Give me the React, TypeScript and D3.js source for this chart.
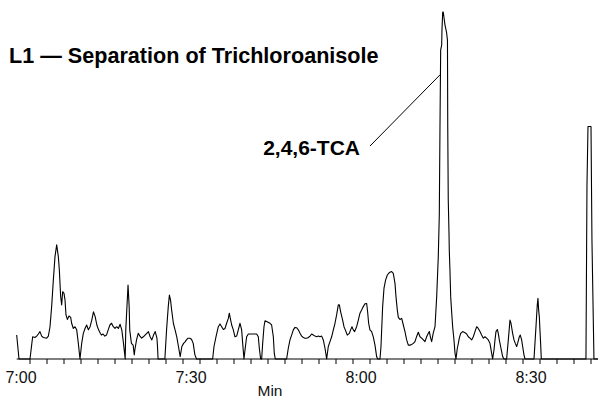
import React from "react";
import * as d3 from "d3";

const WIDTH = 598;
const HEIGHT = 399;

// Retention time is given in seconds after 7:00; signal is relative response (%).
const axisLabels = ["7:00", "7:30", "8:00", "8:30"];
const labelSeconds = [0, 30, 60, 90];
const minorTickStep = 3;

const earlyTrace: [number, number][] = [
  [-2.35, 6.9], [-1.94, 0], [0, 0], [0.29, 4.0], [0.47, 6.4], [0.88, 6.2], [1.18, 6.6], [1.47, 7.2],
  [1.76, 7.9], [2.06, 6.6], [2.35, 6.2], [2.94, 6.0], [3.24, 6.6], [3.53, 9.3], [3.82, 15.1], [4.12, 22.8],
  [4.41, 29.5], [4.71, 32.9], [5.0, 29.5], [5.18, 25.6], [5.41, 18.0], [5.59, 15.6], [5.76, 19.4], [6.0, 18.9],
  [6.18, 17.0], [6.35, 12.7], [6.59, 11.4], [6.88, 12.4], [7.18, 12.0], [7.35, 10.3], [7.65, 8.8], [7.94, 9.3],
  [8.24, 8.4], [8.53, 4.5], [8.82, 0], [9.12, 4.5], [9.41, 7.4], [9.71, 8.8], [10.0, 9.8], [10.3, 8.4],
  [10.6, 9.3], [10.9, 11.2], [11.2, 13.6], [11.5, 12.2], [11.8, 9.8], [12.1, 8.4], [12.4, 7.4], [12.6, 6.9],
  [12.9, 7.2], [13.2, 6.6], [13.5, 6.9], [13.8, 8.4], [14.1, 9.8], [14.4, 10.3], [14.7, 9.3], [15.0, 8.8],
  [15.3, 9.3], [15.6, 8.8], [15.9, 10.0], [16.2, 8.4], [16.5, 4.5], [16.8, 0], [16.9, 8.4], [17.2, 18.0],
  [17.3, 21.3], [17.5, 15.1], [17.6, 8.4], [17.9, 4.5], [18.2, 4.0], [18.4, 1.2], [18.5, 2.6], [18.8, 5.5],
  [19.1, 7.4], [19.4, 6.6], [19.7, 6.0], [20.0, 6.4], [20.3, 6.9], [20.6, 7.4], [20.9, 7.9], [21.2, 6.4],
  [21.5, 5.5], [21.8, 6.9], [22.1, 7.9], [22.4, 6.0], [22.5, 3.6], [22.6, 0], [23.8, 0], [24.1, 8.4],
  [24.4, 15.1], [24.6, 18.4], [24.8, 17.0], [25.0, 14.1], [25.3, 10.3], [25.6, 8.4], [25.9, 6.4], [26.2, 3.6],
  [26.5, 0.7], [26.8, 3.6], [27.1, 4.5], [27.4, 5.0], [27.6, 5.5], [27.9, 6.0], [28.2, 6.0], [28.5, 5.7],
  [28.8, 4.5], [29.1, 1.2], [29.4, 0],
];

const middleTrace: [number, number][] = [
  [32.23, 0], [32.47, 3.6], [32.82, 6.4], [33.23, 9.3], [33.53, 10.1], [33.82, 9.3], [34.12, 8.5], [34.41, 8.8],
  [34.7, 10.3], [35.0, 11.7], [35.17, 13.2], [35.35, 11.7], [35.59, 9.8], [35.88, 8.4], [36.17, 6.4], [36.47, 6.6],
  [36.76, 8.4], [37.06, 10.3], [37.35, 8.4], [37.53, 4.5], [37.76, 0], [37.94, 2.6], [38.23, 6.4], [38.53, 7.2],
  [39.12, 7.2], [39.7, 7.2], [40.0, 7.2], [40.29, 6.4], [40.47, 3.1], [40.7, 0], [40.88, 0], [41.06, 4.5],
  [41.29, 9.3], [41.47, 11.0], [41.76, 10.8], [42.35, 10.3], [42.64, 9.8], [42.94, 6.4], [43.11, 1.6], [43.29, 0],
  [45.29, 0], [45.58, 3.1], [45.88, 5.5], [46.17, 6.9], [46.47, 8.4], [46.76, 9.1], [47.06, 9.0], [47.35, 8.4],
  [47.65, 7.4], [47.94, 6.6], [48.23, 6.2], [48.53, 6.0], [48.82, 6.0], [49.12, 6.2], [49.41, 6.6], [49.7, 7.2],
  [50.0, 6.9], [50.29, 6.6], [50.59, 6.4], [50.88, 6.6], [51.17, 6.4], [51.47, 6.6], [51.76, 5.5], [52.06, 3.1],
  [52.35, 0], [52.64, 3.6], [52.94, 5.0], [53.23, 6.4], [53.53, 8.4], [53.82, 10.3], [54.11, 12.7], [54.41, 15.6],
  [54.59, 15.6], [54.82, 13.6], [55.17, 11.2], [55.41, 9.3], [55.64, 8.4], [55.99, 6.9], [56.35, 7.4], [56.58, 8.4],
  [56.82, 9.3], [57.05, 8.4], [57.29, 7.9], [57.64, 9.3], [57.94, 11.2], [58.23, 13.2], [58.52, 14.1], [58.82, 15.1],
  [59.11, 15.9], [59.41, 16.0], [59.58, 13.6], [59.76, 10.3], [59.99, 8.4], [60.29, 7.9], [60.58, 6.4], [60.88, 4.0],
  [61.17, 0.7], [61.35, 0], [61.76, 0], [61.94, 3.6], [62.23, 15.1], [62.47, 20.4], [62.76, 22.8], [63.06, 24.2],
  [63.41, 24.9], [63.82, 25.2], [64.11, 24.7], [64.41, 21.8], [64.59, 17.9], [64.82, 14.1], [65.0, 12.0], [65.29, 11.4],
  [65.59, 11.7], [65.88, 9.8], [66.17, 7.9], [66.47, 5.5], [66.76, 4.0], [67.06, 4.0], [67.35, 4.2], [67.64, 4.5],
  [67.94, 5.0], [68.23, 6.5], [68.53, 7.7], [68.82, 6.4], [69.12, 6.0], [69.41, 5.5], [69.7, 5.0], [70.0, 6.4],
  [70.29, 7.4], [70.47, 7.9], [70.7, 6.0], [70.88, 5.0],
];

// 2,4,6-trichloroanisole elution band
const tcaPeak: [number, number][] = [
  [71.17, 7.5], [71.47, 9.3], [71.77, 18.0], [72.05, 29.5], [72.23, 41.5], [72.35, 66.9], [72.47, 89.0],
  [72.65, 90.5], [72.7, 94.8], [72.83, 100], [72.93, 100], [73.23, 96.3], [73.5, 94.2], [73.67, 91.9],
  [73.72, 66.9], [73.81, 45.8], [73.94, 36.3], [73.99, 31.4], [74.11, 25.6], [74.24, 17.9], [74.42, 13.3],
  [74.59, 9.2], [74.82, 5.5], [75.0, 1.7], [75.17, 0],
];

const lateTrace: [number, number][] = [
  [75.41, 3.1], [75.59, 4.5], [75.76, 6.0], [76.0, 7.4], [76.35, 7.9], [76.76, 7.6], [77.06, 7.2], [77.35, 6.4],
  [77.64, 6.0], [77.94, 5.5], [78.23, 6.4], [78.53, 7.9], [78.82, 9.3], [79.11, 8.8], [79.41, 7.9], [79.7, 6.9],
  [80.0, 6.0], [80.29, 6.4], [80.58, 6.0], [80.88, 5.5], [81.17, 4.5], [81.47, 1.6], [81.64, 0], [81.88, 2.6],
  [82.06, 5.5], [82.23, 7.9], [82.47, 8.5], [82.64, 7.4], [82.82, 5.5], [83.05, 3.6], [83.41, 0.7], [83.64, 0],
  [84.11, 0], [84.41, 5.5], [84.7, 11.2], [84.88, 10.3], [85.17, 7.4], [85.41, 5.5], [85.64, 4.5], [85.88, 3.6],
  [86.05, 4.5], [86.35, 6.4], [86.52, 6.9], [86.76, 5.5], [86.94, 3.6], [87.17, 1.2], [87.35, 0], [88.94, 0],
  [89.11, 4.5], [89.29, 9.3], [89.52, 15.6], [89.64, 17.5], [89.76, 14.1], [89.88, 12.2], [89.99, 8.4], [90.11, 4.5],
  [90.23, 0], [98.11, 0], [98.29, 50], [98.47, 67], [99.0, 67], [99.17, 34], [99.52, 0], [100.3, 0],
];

// point on the rising flank of the TCA band where the callout ends
const tcaCallout: [number, number] = [72.42, 82];

const titleText = "L1 — Separation of Trichloroanisole";
const peakName = "2,4,6-TCA";
const axisName = "Min";

const FONT = "'Liberation Sans', Arial, Helvetica, sans-serif";

export default function App() {
  const trace = [...earlyTrace, ...middleTrace, ...tcaPeak, ...lateTrace];

  const x = d3.scaleLinear().domain([0, 90]).range([30, 540]);
  const y = d3.scaleLinear().domain([0, 100]).range([359, 12]);

  const line = d3
    .line<[number, number]>()
    .x((d) => x(d[0]))
    .y((d) => y(d[1]));

  const tStart = trace[0][0];
  const tEnd = trace[trace.length - 1][0];
  const ticks = d3.range(0, tEnd, minorTickStep);

  const labelX = 360;
  const labelY = 155;

  return (
    <svg
      width={WIDTH}
      height={HEIGHT}
      viewBox={`0 0 ${WIDTH} ${HEIGHT}`}
      style={{ position: "absolute", left: 0, top: 0, background: "#fff" }}
      fontFamily={FONT}
    >
      <rect width={WIDTH} height={HEIGHT} fill="#fff" />

      {/* time axis */}
      <line x1={x(tStart)} x2={WIDTH} y1={y(0)} y2={y(0)} stroke="#000" strokeWidth={1.2} />
      {ticks.map((t) => (
        <line key={t} x1={x(t)} x2={x(t)} y1={y(0)} y2={y(0) + 5} stroke="#000" strokeWidth={1} />
      ))}
      {axisLabels.map((lab, i) => (
        <text key={lab} x={x(labelSeconds[i])} dx={-9} y={383} fontSize={16} textAnchor="middle" fill="#111">
          {lab}
        </text>
      ))}
      <text x={270} y={396} fontSize={15.5} textAnchor="middle" fill="#111">
        {axisName}
      </text>

      {/* detector trace */}
      <path d={line(trace) || ""} fill="none" stroke="#000" strokeWidth={1.1} strokeLinejoin="round" />

      {/* title and peak annotation */}
      <text x={9} y={63} fontSize={21.6} fontWeight="bold" fill="#000">
        {titleText}
      </text>
      <text x={labelX} y={labelY} fontSize={21} fontWeight="bold" textAnchor="end" fill="#000">
        {peakName}
      </text>
      <line
        x1={labelX + 10}
        y1={labelY - 9}
        x2={x(tcaCallout[0])}
        y2={y(tcaCallout[1])}
        stroke="#000"
        strokeWidth={1}
      />
    </svg>
  );
}
